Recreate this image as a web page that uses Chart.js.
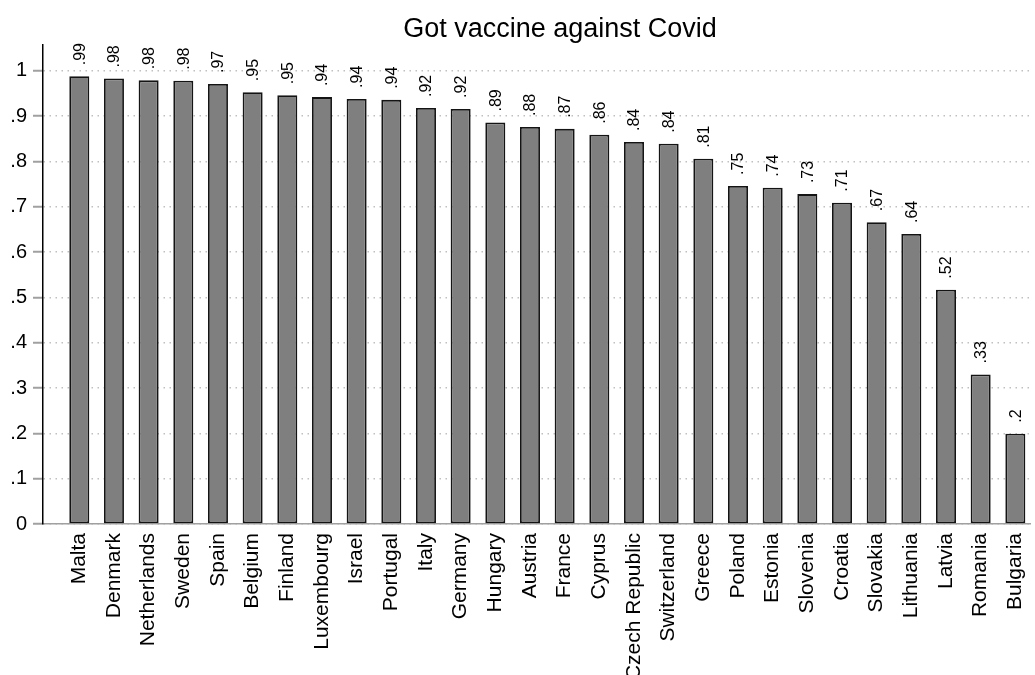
<!DOCTYPE html>
<html>
<head>
<meta charset="utf-8">
<script src="https://cdn.jsdelivr.net/npm/chart.js@4"></script>
<style>
  body { margin: 0; background: #fff; }
  #wrap { width: 1035px; height: 675px; }
</style>
</head>
<body>
<div id="wrap"><canvas id="myChart" width="1035" height="675"></canvas></div>
<script>
const countries = ["Malta", "Denmark", "Netherlands", "Sweden", "Spain", "Belgium", "Finland",
  "Luxembourg", "Israel", "Portugal", "Italy", "Germany", "Hungary", "Austria", "France",
  "Cyprus", "Czech Republic", "Switzerland", "Greece", "Poland", "Estonia", "Slovenia",
  "Croatia", "Slovakia", "Lithuania", "Latvia", "Romania", "Bulgaria"];
const vaccinated = [0.988, 0.983, 0.979, 0.978, 0.971, 0.953, 0.946, 0.942, 0.938, 0.936,
  0.918, 0.916, 0.886, 0.876, 0.872, 0.859, 0.843, 0.839, 0.806, 0.746, 0.742, 0.728,
  0.709, 0.666, 0.640, 0.517, 0.330, 0.199];
const yTicks = [0, 0.1, 0.2, 0.3, 0.4, 0.5, 0.6, 0.7, 0.8, 0.9, 1];

const FONT = "Arial, 'Liberation Sans', sans-serif";

// stata style: ".9" not "0.9"
function shortNum(v) {
  return String(Number(v.toFixed(2))).replace(/^0\./, ".");
}

const barLabels = {
  id: "barLabels",
  afterDatasetsDraw(chart) {
    const ctx = chart.ctx;
    const meta = chart.getDatasetMeta(0);
    ctx.save();
    ctx.font = "16px " + FONT;
    ctx.fillStyle = "#000";
    ctx.textAlign = "left";
    ctx.textBaseline = "middle";
    meta.data.forEach((bar, i) => {
      ctx.save();
      ctx.translate(bar.x + 1, bar.y - 11);
      ctx.rotate(-Math.PI / 2);
      ctx.fillText(shortNum(vaccinated[i]), 0, 0);
      ctx.restore();
    });
    ctx.restore();
  },
};

const titleText = {
  id: "titleText",
  afterDraw(chart) {
    const ctx = chart.ctx;
    ctx.save();
    ctx.font = "27px " + FONT;
    ctx.fillStyle = "#000";
    ctx.textAlign = "center";
    ctx.textBaseline = "alphabetic";
    ctx.fillText("Got vaccine against Covid", 560, 37);
    ctx.restore();
  },
};

new Chart(document.getElementById("myChart"), {
  type: "bar",
  data: {
    labels: countries,
    datasets: [
      {
        data: vaccinated,
        backgroundColor: "#7f7f7f",
        borderColor: "#141414",
        borderWidth: 1.8,
        borderSkipped: false,
        categoryPercentage: 1,
        barPercentage: 0.577,
      },
    ],
  },
  options: {
    responsive: false,
    devicePixelRatio: 1,
    animation: false,
    layout: { padding: { top: 45, right: 5, left: 0, bottom: 0 } },
    plugins: {
      legend: { display: false },
      title: { display: false },
      tooltip: { enabled: false },
    },
    scales: {
      x: {
        offset: false,
        afterFit(scale) {
          scale.height = 151;
          scale.paddingLeft = 0;
          scale.paddingRight = 0;
        },
        afterBuildTicks(scale) {
          // extra gap on the left like the original
          scale._startValue = -1.047;
          scale._valueRange = 28.47;
        },
        grid: { display: false, drawTicks: false },
        border: { color: "#a0a0a0", width: 1.5 },
        ticks: {
          autoSkip: false,
          minRotation: 90,
          maxRotation: 90,
          padding: 9,
          color: "#000",
          font: { family: FONT, size: 21 },
        },
      },
      y: {
        min: 0,
        max: 1.057,
        afterFit(scale) {
          scale.width = 43;
        },
        afterBuildTicks(scale) {
          scale.ticks = yTicks.map((v) => ({ value: v }));
        },
        grid: {
          color: "#c0c0c0",
          lineWidth: 1.5,
          tickColor: "#a0a0a0",
          tickLength: 10,
          tickWidth: 2,
        },
        border: { color: "#000", width: 1.5, dash: [1.5, 4.5] },
        ticks: {
          padding: 6,
          color: "#000",
          font: { family: FONT, size: 20 },
          callback: (v) => shortNum(v),
        },
      },
    },
  },
  plugins: [barLabels, titleText],
});
</script>
</body>
</html>
